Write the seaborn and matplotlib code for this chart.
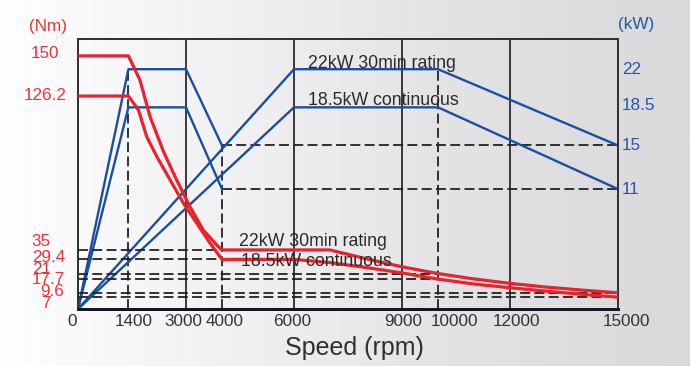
import numpy as np
import pandas as pd
import matplotlib
matplotlib.use("Agg")
import matplotlib.pyplot as plt
import seaborn as sns

sns.set_style("white")
plt.rcParams['font.family'] = ['Liberation Sans', 'DejaVu Sans']

# torque curves (Nm)
upper_rpm = [0, 1400, 1720, 2000, 2370, 2740, 3110, 3480, 3850, 4000, 7000, 8000, 9000,
             10000, 11000, 12000, 13000, 14000, 15000]
upper_nm = [150, 150, 135.7, 114, 93.5, 76.4, 60.6, 46.8, 38, 35, 35, 29.8, 25,
            21, 17.8, 15.2, 13, 11.2, 9.6]
lower_rpm = [0, 1400, 1680, 1910, 2190, 2560, 2930, 3300, 3670, 4000, 6000, 7000, 8000,
             9000, 10000, 11000, 12000, 13000, 14000, 15000]
lower_nm = [126.2, 126.2, 117.9, 102, 90.3, 76.4, 62.6, 50.8, 38.9, 29.4, 29.4, 27.5, 24.6,
            21.4, 17.7, 14.8, 12.6, 10.6, 8.7, 7]

# power curves (kW)
pow_low_rpm = [0, 1400, 3000, 4000]
pow_low_22 = [0, 22, 22, 15]
pow_low_185 = [0, 18.5, 18.5, 11]
pow_high_rpm = [0, 6000, 10000, 15000]
pow_high_22 = [0, 22, 22, 15]
pow_high_185 = [0, 18.5, 18.5, 11]

solid_grid_rpm = [3000, 6000, 9000, 12000]
torque_ref = [35, 29.4, 21, 17.7, 9.6, 7]
torque_ref_end = [4000, 4000, 10000, 10000, 15000, 15000]
power_ref = [15, 11]
speed_ref = [1400, 4000, 10000]
speed_ref_top = [22, 15, 22]

torque_labels = ["150", "126.2", "35", "29.4", "21", "17.7", "9.6", "7"]
power_labels = ["22", "18.5", "15", "11"]
speed_labels = ["0", "1400", "3000", "4000", "6000", "9000", "10000", "12000", "15000"]

RED = '#e8232d'
BLUE = '#1a4f9f'
W, H = 690, 366

fig = plt.figure(figsize=(6.9, 3.66), dpi=100)

# background gradient
bg = fig.add_axes([0, 0, 1, 1], zorder=-10)
xs = np.linspace(0, 1, 300)
shade = np.interp(xs, [0, 0.36, 0.65, 1], [254, 240, 227, 217]) / 255
grad = np.dstack([shade, shade, shade * 1.01]).clip(0, 1)
grad = np.repeat(grad, 2, axis=0)
bg.imshow(grad, aspect='auto', extent=[0, 1, 0, 1])
bg.axis('off')

ax = fig.add_axes([78 / W, 1 - 309 / H, 540 / W, 270 / H])
ax2 = ax.twinx()
ax.set_zorder(ax2.get_zorder() + 1)
ax.patch.set_visible(False)
ax2.set_facecolor('#dcd8dc')

ax.set_xlim(0, 15000)
ax.set_ylim(0, 160)
ax2.set_ylim(0, 24.77)

dash = (0, (5.5, 2.4))
ax2.vlines(solid_grid_rpm, 0, 24.77, colors='#2b2b2b', lw=1.3, zorder=1)
ax.hlines(torque_ref, 0, torque_ref_end, colors='#222222', lw=1.3, linestyles=[dash], zorder=1)
ax2.hlines(power_ref, 4000, 15000, colors='#222222', lw=1.3, linestyles=[dash], zorder=1)
ax2.vlines(speed_ref, 0, speed_ref_top, colors='#222222', lw=1.3, linestyles=[dash], zorder=1)

for xr, yp in [(pow_low_rpm, pow_low_22), (pow_low_rpm, pow_low_185),
               (pow_high_rpm, pow_high_22), (pow_high_rpm, pow_high_185)]:
    sns.lineplot(x=xr, y=yp, ax=ax2, color=BLUE, lw=1.7, sort=False, estimator=None, zorder=3)

for xr, yt in [(upper_rpm, upper_nm), (lower_rpm, lower_nm)]:
    sns.lineplot(x=xr, y=yt, ax=ax, color=RED, lw=2.3, sort=False, estimator=None, zorder=4)

for a in (ax, ax2):
    a.set_xticks([])
    a.set_yticks([])
    a.set_xlabel("")
    a.set_ylabel("")
    for s in ['top', 'left', 'right']:
        a.spines[s].set_color('#333333')
        a.spines[s].set_linewidth(1.4)
    a.spines['bottom'].set_color('#141428')
    a.spines['bottom'].set_linewidth(2.0)

# annotations
for txt, px, py in [("22kW 30min rating", 308, 63), ("18.5kW continuous", 308, 100),
                    ("22kW 30min rating", 239, 242), ("18.5kW continuous", 241, 261)]:
    fig.text(px / W, 1 - py / H, txt, fontsize=12.8, color='#2a2a2a', ha='left', va='center', zorder=5)


def ftext(s, px, py, ha, color, size=12.3):
    fig.text(px / W, 1 - py / H, s, fontsize=size, color=color, ha=ha, va='center')


ftext("(Nm)", 47.5, 27, 'center', '#e8333c')
left_pos = [(45.5, 54, 'center'), (45, 95, 'center'), (31.7, 242, 'left'), (31.7, 257.5, 'left'),
            (31.7, 269.5, 'left'), (31.7, 280, 'left'), (40.7, 291, 'left'), (40.7, 304, 'left')]
for s, (px, py, ha) in zip(torque_labels, left_pos):
    ftext(s, px, py, ha, '#e8333c')

ftext("(kW)", 618, 25, 'left', '#2456a4')
for s, py in zip(power_labels, [69, 106, 145.7, 189]):
    ftext(s, 622, py, 'left', '#2456a4')

for s, px in zip(speed_labels, [71.7, 134, 183, 225, 292.5, 403, 454, 516.7, 626.7]):
    ftext(s, px, 322, 'center', '#333333')

ftext("Speed (rpm)", 354, 348, 'center', '#2f2f2f', size=18)

fig.savefig("out.png", dpi=100)
